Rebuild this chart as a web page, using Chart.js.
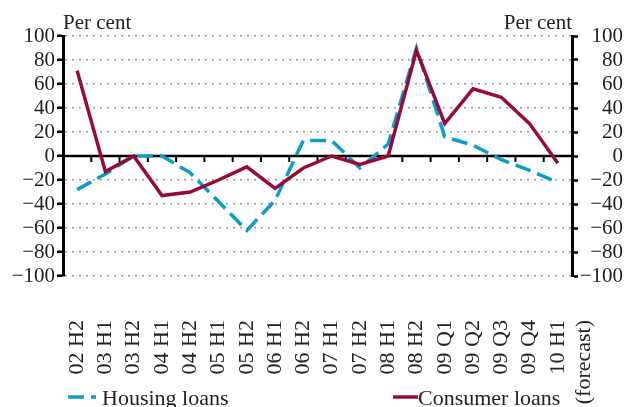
<!DOCTYPE html>
<html>
<head>
<meta charset="utf-8">
<script src="https://cdn.jsdelivr.net/npm/chart.js@4"></script>
<style>
  html, body { margin: 0; padding: 0; background: #fff; }
  #wrap { width: 627px; height: 407px; }
</style>
</head>
<body>
<div id="wrap"><canvas id="chart" width="627" height="407"></canvas></div>
<script>
const periods = ['02 H2', '03 H1', '03 H2', '04 H1', '04 H2', '05 H1', '05 H2', '06 H1', '06 H2',
  '07 H1', '07 H2', '08 H1', '08 H2', '09 Q1', '09 Q2', '09 Q3', '09 Q4', ['10 H1', '(forecast)']];
const housing_loans = [-28, -15, 0, 0, -14, -38, -62, -37, 13, 13, -10, 10, 90, 16, 9, -3, -12, -22];
const consumer_loans = [71, -13, 0, -33, -30, -20, -9, -27, -10, 0, -7, 0, 88, 27, 56, 49, 27, -6];
const y_min = -100;
const y_max = 100;
const y_step = 20;

const FONT = "'Liberation Serif', 'Times New Roman', serif";
const BLUE = '#0b9ec6';
const RED = '#960b37';

const minus = v => String(v).replace('-', '\u2212');

// zero line with small ticks between categories, "Per cent" titles, legend
const extras = {
  id: 'extras',
  beforeDatasetsDraw(chart) {
    const {ctx, chartArea, scales} = chart;
    const y0 = scales.y.getPixelForValue(0);
    const x = scales.x;
    const half = (x.getPixelForValue(1) - x.getPixelForValue(0)) / 2;
    ctx.save();
    ctx.strokeStyle = '#000';
    ctx.lineWidth = 2.5;
    ctx.beginPath();
    ctx.moveTo(chartArea.left, y0);
    ctx.lineTo(chartArea.right, y0);
    ctx.stroke();
    ctx.lineWidth = 2;
    for (let i = 0; i < periods.length - 1; i++) {
      const px = x.getPixelForValue(i) + half;
      ctx.beginPath();
      ctx.moveTo(px, y0);
      ctx.lineTo(px, y0 + 6);
      ctx.stroke();
    }
    ctx.restore();
  },
  afterDraw(chart) {
    const {ctx, chartArea} = chart;
    ctx.save();
    ctx.fillStyle = '#222';
    ctx.font = '21px ' + FONT;
    ctx.textBaseline = 'alphabetic';
    ctx.textAlign = 'left';
    ctx.fillText('Per cent', chartArea.left, 29);
    ctx.textAlign = 'right';
    ctx.fillText('Per cent', chartArea.right, 29);

    // legend
    const legend_x = [68, 393];
    const ly = 397;
    ctx.font = '22px ' + FONT;
    chart.data.datasets.forEach(ds => {
      const lx = legend_x[ds.legendSlot];
      ctx.strokeStyle = ds.borderColor;
      ctx.lineWidth = ds.borderWidth;
      ctx.setLineDash(ds.borderDash || []);
      ctx.beginPath();
      ctx.moveTo(lx, ly);
      ctx.lineTo(lx + (ds.borderDash ? 28 : 25), ly);
      ctx.stroke();
      ctx.setLineDash([]);
      ctx.textAlign = 'left';
      ctx.fillStyle = '#222';
      ctx.fillText(ds.label, lx + (ds.borderDash ? 34 : 25), 405);
    });
    ctx.restore();
  }
};

new Chart(document.getElementById('chart'), {
  type: 'line',
  data: {
    labels: periods,
    datasets: [{
      label: 'Consumer loans',
      data: consumer_loans,
      borderColor: RED,
      borderWidth: 3.5,
      pointRadius: 0,
      tension: 0,
      order: 0,
      legendSlot: 1,
      yAxisID: 'y'
    }, {
      label: 'Housing loans',
      data: housing_loans,
      borderColor: BLUE,
      borderWidth: 3.5,
      borderDash: [16, 7],
      pointRadius: 0,
      tension: 0,
      order: 1,
      legendSlot: 0,
      yAxisID: 'y'
    }]
  },
  options: {
    responsive: false,
    animation: false,
    events: [],
    layout: { padding: { top: 36, right: 4, left: 0, bottom: 0 } },
    plugins: {
      legend: { display: false },
      tooltip: { enabled: false }
    },
    scales: {
      x: {
        offset: true,
        grid: { display: false, drawTicks: false },
        border: { display: false },
        afterFit: s => { s.height = 131; s.paddingLeft = 0; s.paddingRight = 0; },
        ticks: {
          minRotation: 90,
          maxRotation: 90,
          autoSkip: false,
          padding: 44,
          color: '#222',
          font: { family: FONT, size: 22 }
        }
      },
      y: {
        position: 'left',
        min: y_min,
        max: y_max,
        afterFit: s => { s.width = 63; s.paddingTop = 0; s.paddingBottom = 0; },
        grid: {
          color: c => c.tick && c.tick.value === 0 ? 'rgba(0,0,0,0)' : '#9a9a9a',
          lineWidth: 1.5,
          tickColor: '#000',
          tickWidth: 2.5,
          tickLength: 6
        },
        border: { display: true, color: '#000', width: 3, dash: [2, 5] },
        ticks: {
          stepSize: y_step,
          autoSkip: false,
          padding: 2,
          color: '#222',
          font: { family: FONT, size: 21 },
          callback: v => minus(v)
        }
      },
      y2: {
        position: 'right',
        min: y_min,
        max: y_max,
        afterFit: s => { s.width = 51; s.paddingTop = 0; s.paddingBottom = 0; },
        grid: {
          drawOnChartArea: false,
          tickColor: '#000',
          tickWidth: 2.5,
          tickLength: 6
        },
        border: { display: true, color: '#000', width: 3 },
        ticks: {
          stepSize: y_step,
          autoSkip: false,
          crossAlign: 'far',
          color: '#222',
          font: { family: FONT, size: 21 },
          callback: v => minus(v)
        }
      }
    }
  },
  plugins: [extras]
});
</script>
</body>
</html>
